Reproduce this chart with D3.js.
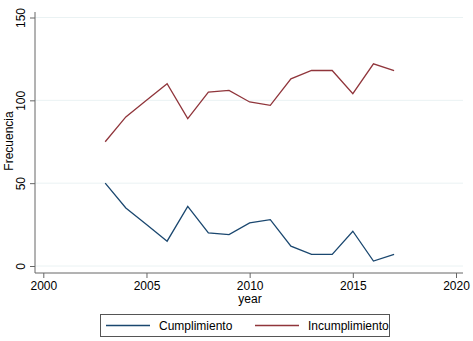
<!DOCTYPE html>
<html>
<head>
<meta charset="utf-8">
<script src="https://cdn.jsdelivr.net/npm/d3@7"></script>
<style>
  body { margin: 0; background: #fff; }
  text { font-family: "Liberation Sans", Arial, sans-serif; fill: #000; }
</style>
</head>
<body>
<svg id="chart" width="473" height="341"></svg>
<script>
var years = [2003, 2004, 2005, 2006, 2007, 2008, 2009, 2010, 2011, 2012, 2013, 2014, 2015, 2016, 2017]
var cumplimiento = [50, 35, 25, 15, 36, 20, 19, 26, 28, 12, 7, 7, 21, 3, 7]
var incumplimiento = [75, 90, 100, 110, 89, 105, 106, 99, 97, 113, 118, 118, 104, 122, 118]
var xTicks = [2000, 2005, 2010, 2015, 2020]
var yTicks = [0, 50, 100, 150]
var seriesNames = ['Cumplimiento', 'Incumplimiento']
var seriesColors = ['#1a476f', '#90353b']

var svg = d3.select('#chart')

var x = d3.scaleLinear().domain([2000, 2020]).range([43.3, 456])
var y = d3.scaleLinear().domain([0, 150]).range([266, 17.5])

var plotLeft = 35, plotRight = 463, plotBottom = 273

// gridlines
svg.append('g')
  .selectAll('line')
  .data(yTicks)
  .enter()
  .append('line')
    .attr('x1', plotLeft)
    .attr('x2', plotRight)
    .attr('y1', d => y(d))
    .attr('y2', d => y(d))
    .attr('stroke', '#eaf2f3')
    .attr('stroke-width', 1)

// y axis
var yAxis = svg.append('g')
  .attr('transform', 'translate(' + plotLeft + ',0)')
  .call(d3.axisLeft(y).tickValues(yTicks).tickSize(5).tickPadding(3))
yAxis.select('.domain').attr('d', 'M0,' + 12 + 'V' + plotBottom).attr('stroke', '#666')
yAxis.selectAll('.tick line').attr('stroke', '#666')
yAxis.selectAll('.tick text')
  .attr('font-size', 12)
  .attr('transform', 'rotate(-90)')
  .attr('x', 0)
  .attr('y', -10)
  .attr('dy', 0)
  .attr('text-anchor', 'middle')

// x axis
var xAxis = svg.append('g')
  .attr('transform', 'translate(0,' + plotBottom + ')')
  .call(d3.axisBottom(x).tickValues(xTicks).tickFormat(d3.format('d')).tickSize(5).tickPadding(3))
xAxis.select('.domain').attr('d', 'M' + plotLeft + ',0H' + plotRight).attr('stroke', '#666')
xAxis.selectAll('.tick line').attr('stroke', '#666')
xAxis.selectAll('.tick text').attr('font-size', 12)

// axis titles
svg.append('text')
  .attr('x', 250)
  .attr('y', 303)
  .attr('text-anchor', 'middle')
  .attr('font-size', 12)
  .text('year')

svg.append('text')
  .attr('transform', 'translate(13,141) rotate(-90)')
  .attr('text-anchor', 'middle')
  .attr('font-size', 12)
  .text('Frecuencia')

// lines
var line = d3.line()
  .x((d, i) => x(years[i]))
  .y(d => y(d))

;[cumplimiento, incumplimiento].forEach((s, k) => {
  svg.append('path')
    .datum(s)
    .attr('d', line)
    .attr('fill', 'none')
    .attr('stroke', seriesColors[k])
    .attr('stroke-width', 1.3)
})

// legend
var leg = svg.append('g')
leg.append('rect')
  .attr('x', 100.5)
  .attr('y', 314.5)
  .attr('width', 289)
  .attr('height', 22)
  .attr('fill', '#fff')
  .attr('stroke', '#555')

var legX = [106, 255]
seriesNames.forEach((n, k) => {
  leg.append('line')
    .attr('x1', legX[k])
    .attr('x2', legX[k] + 44)
    .attr('y1', 325.5)
    .attr('y2', 325.5)
    .attr('stroke', seriesColors[k])
    .attr('stroke-width', 1.3)
  leg.append('text')
    .attr('x', legX[k] + 53)
    .attr('y', 330)
    .attr('font-size', 12)
    .text(n)
})
</script>
</body>
</html>
